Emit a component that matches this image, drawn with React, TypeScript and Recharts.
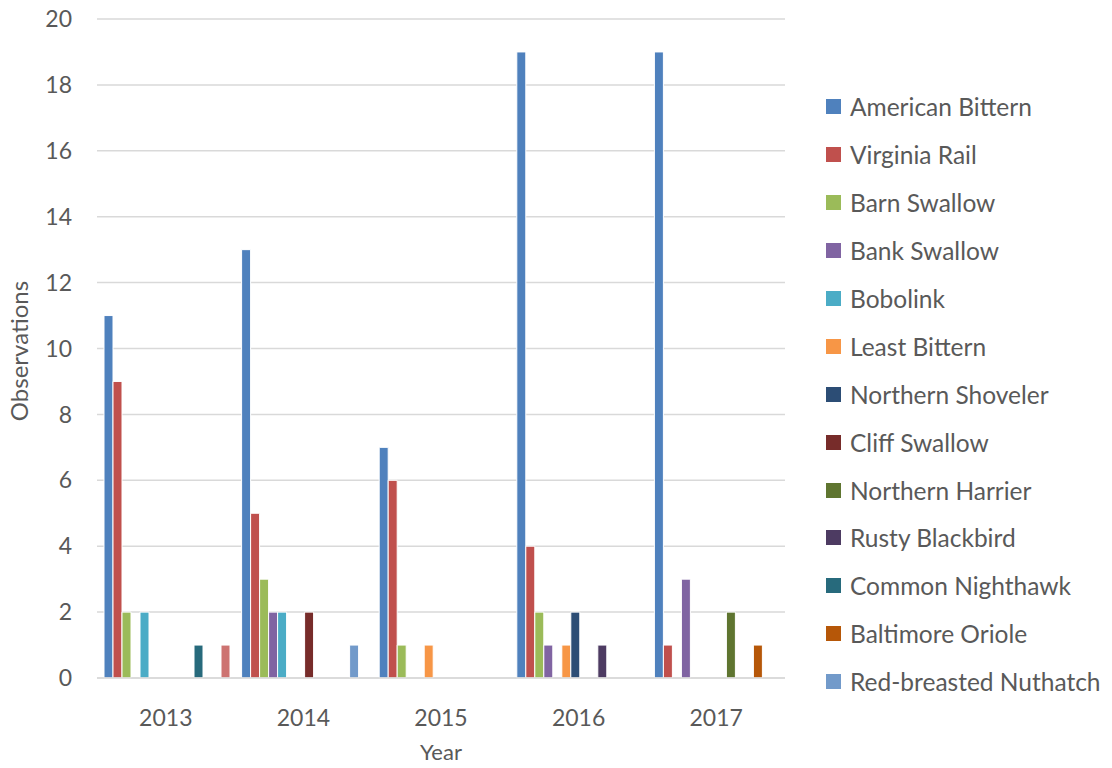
import React from "react";
import {
  BarChart,
  Bar,
  XAxis,
  YAxis,
  CartesianGrid,
  Legend,
  Label,
} from "recharts";

const years = ["2013", "2014", "2015", "2016", "2017"];

// one array per species, in year order (2013..2017)
const americanBittern = [11, 13, 7, 19, 19];
const virginiaRail = [9, 5, 6, 4, 1];
const barnSwallow = [2, 3, 1, 2, 0];
const bankSwallow = [0, 2, 0, 1, 3];
const bobolink = [2, 2, 0, 0, 0];
const leastBittern = [0, 0, 1, 1, 0];
const northernShoveler = [0, 0, 0, 2, 0];
const cliffSwallow = [0, 2, 0, 0, 0];
const northernHarrier = [0, 0, 0, 0, 2];
const rustyBlackbird = [0, 0, 0, 1, 0];
const commonNighthawk = [1, 0, 0, 0, 0];
const baltimoreOriole = [0, 0, 0, 0, 1];
const redBreastedNuthatch = [0, 1, 0, 0, 0];
// 14th series: its legend entry is cut off in the original
const unlistedSpecies = [1, 0, 0, 0, 0];

const yTicks = [0, 2, 4, 6, 8, 10, 12, 14, 16, 18, 20];

const series = [
  { key: "American Bittern", values: americanBittern, color: "#4F81BD", legend: true },
  { key: "Virginia Rail", values: virginiaRail, color: "#C0504D", legend: true },
  { key: "Barn Swallow", values: barnSwallow, color: "#9BBB59", legend: true },
  { key: "Bank Swallow", values: bankSwallow, color: "#8064A2", legend: true },
  { key: "Bobolink", values: bobolink, color: "#4BACC6", legend: true },
  { key: "Least Bittern", values: leastBittern, color: "#F79646", legend: true },
  { key: "Northern Shoveler", values: northernShoveler, color: "#2C4D75", legend: true },
  { key: "Cliff Swallow", values: cliffSwallow, color: "#772C2A", legend: true },
  { key: "Northern Harrier", values: northernHarrier, color: "#5F7530", legend: true },
  { key: "Rusty Blackbird", values: rustyBlackbird, color: "#4D3B62", legend: true },
  { key: "Common Nighthawk", values: commonNighthawk, color: "#276A7C", legend: true },
  { key: "Baltimore Oriole", values: baltimoreOriole, color: "#B65708", legend: true },
  { key: "Red-breasted Nuthatch", values: redBreastedNuthatch, color: "#729ACA", legend: true },
  { key: "Unlisted", values: unlistedSpecies, color: "#CD7371", legend: false },
];

const data = years.map((year, i) => {
  const row: Record<string, string | number> = { year };
  series.forEach((s) => {
    row[s.key] = s.values[i];
  });
  return row;
});

const FONT = "Lato, 'Open Sans', sans-serif";
const TEXT = "#595959";

const renderLegend = () => (
  <div style={{ fontFamily: FONT, fontSize: 24.5, color: TEXT }}>
    {series
      .filter((s) => s.legend)
      .map((s) => (
        <div
          key={s.key}
          style={{ display: "flex", alignItems: "center", height: 47.9 }}
        >
          <span
            style={{
              width: 15,
              height: 15,
              background: s.color,
              marginRight: 9,
              display: "inline-block",
            }}
          />
          <span style={{ whiteSpace: "nowrap" }}>{s.key}</span>
        </div>
      ))}
  </div>
);

export default function App() {
  return (
    <div
      style={{
        position: "absolute",
        left: 0,
        top: 0,
        width: 1112,
        height: 768,
        background: "#fff",
      }}
    >
      <BarChart
        width={1112}
        height={768}
        data={data}
        margin={{ top: 19, right: 327, bottom: 0, left: 0 }}
        barCategoryGap={7}
        barGap={0}
      >
        <CartesianGrid vertical={false} stroke="#D9D9D9" strokeWidth={1.5} />
        <XAxis
          dataKey="year"
          height={90}
          tickLine={false}
          axisLine={{ stroke: "#D9D9D9", strokeWidth: 1.5 }}
          tickMargin={26}
          tick={{ fill: TEXT, fontSize: 23, fontFamily: FONT }}
        >
          <Label
            value="Year"
            position="insideBottom"
            offset={8}
            style={{ fill: TEXT, fontSize: 22, fontFamily: FONT }}
          />
        </XAxis>
        <YAxis
          width={97}
          domain={[0, 20]}
          ticks={yTicks}
          interval={0}
          tickLine={false}
          axisLine={false}
          tickSize={0}
          tickMargin={25}
          tick={{ fill: TEXT, fontSize: 23, fontFamily: FONT }}
        >
          <Label
            content={() => (
              <text
                x={22}
                y={351}
                transform="rotate(-90 22 351)"
                textAnchor="middle"
                dominantBaseline="middle"
                fill={TEXT}
                fontSize={24}
                fontFamily={FONT}
              >
                Observations
              </text>
            )}
          />
        </YAxis>
        <Legend
          layout="vertical"
          align="center"
          verticalAlign="middle"
          wrapperStyle={{ left: 826, top: 83, width: 286 }}
          content={renderLegend}
        />
        {series.map((s) => (
          <Bar
            key={s.key}
            dataKey={s.key}
            fill={s.color}
            stroke="#fff"
            strokeWidth={1}
            isAnimationActive={false}
          />
        ))}
      </BarChart>
    </div>
  );
}
